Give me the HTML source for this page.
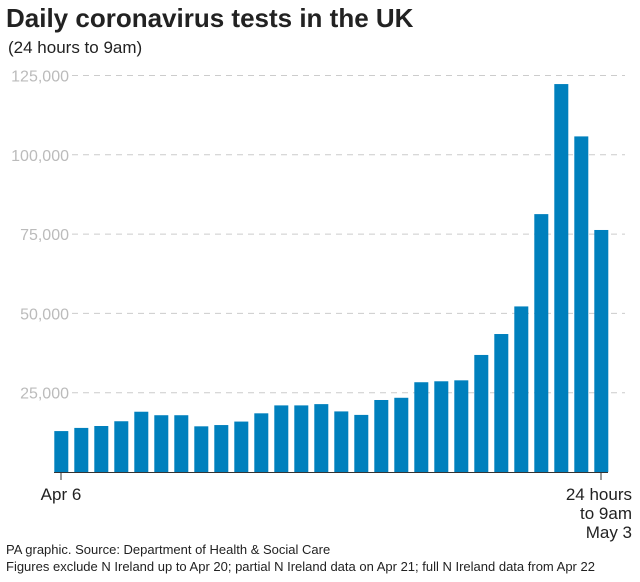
<!DOCTYPE html>
<html><head><meta charset="utf-8"><style>
body{margin:0;background:#fff;width:640px;height:577px;overflow:hidden;font-family:"Liberation Sans",sans-serif}
</style></head><body>
<svg width="640" height="577" font-family="Liberation Sans, sans-serif">
<text x="6" y="27" font-size="26" font-weight="bold" fill="#222">Daily coronavirus tests in the UK</text>
<text x="8" y="53" font-size="17" fill="#222">(24 hours to 9am)</text>
<g id="grid"></g>
<g id="bars"></g>
<line x1="54" x2="608" y1="472.5" y2="472.5" stroke="#333" stroke-width="1"/>
<line x1="61" x2="61" y1="472" y2="480" stroke="#333"/>
<line x1="601" x2="601" y1="472" y2="480" stroke="#333"/>
<text x="61" y="500" font-size="17" text-anchor="middle" fill="#222">Apr 6</text>
<text x="632" y="500" font-size="17" text-anchor="end" fill="#222"><tspan x="632">24 hours</tspan><tspan x="632" dy="19">to 9am</tspan><tspan x="632" dy="19">May 3</tspan></text>
<text x="6" y="554" font-size="13" fill="#222">PA graphic. Source: Department of Health &amp; Social Care</text>
<text x="6" y="571" font-size="13" fill="#222">Figures exclude N Ireland up to Apr 20; partial N Ireland data on Apr 21; full N Ireland data from Apr 22</text>
</svg>
<script>
const days=["Apr 6","Apr 7","Apr 8","Apr 9","Apr 10","Apr 11","Apr 12","Apr 13","Apr 14","Apr 15","Apr 16","Apr 17","Apr 18","Apr 19","Apr 20","Apr 21","Apr 22","Apr 23","Apr 24","Apr 25","Apr 26","Apr 27","Apr 28","Apr 29","Apr 30","May 1","May 2","May 3"];
const tests=[12900,13900,14500,16000,19000,17900,17900,14400,14800,15900,18500,21000,21000,21400,19100,18000,22700,23400,28300,28600,28900,36900,43500,52200,81300,122300,105800,76300];
const yTicks=[25000,50000,75000,100000,125000];
const yTickLabels=["25,000","50,000","75,000","100,000","125,000"];
const NS="http://www.w3.org/2000/svg";
const y0=472,yPer=79.3/25000,x0=54.3,step=20,bw=14;
const yScale=v=>y0-v*yPer;
const xScale=i=>x0+i*step;
const grid=document.getElementById('grid');
yTicks.forEach((t,i)=>{
 const l=document.createElementNS(NS,'line');
 l.setAttribute('x1',72);l.setAttribute('x2',625);
 l.setAttribute('y1',yScale(t));l.setAttribute('y2',yScale(t));
 l.setAttribute('stroke','#ccc');l.setAttribute('stroke-dasharray','6,5');
 
 
 grid.appendChild(l);
 const tx=document.createElementNS(NS,'text');
 tx.setAttribute('x',69);tx.setAttribute('y',yScale(t)+6);
 tx.setAttribute('text-anchor','end');tx.setAttribute('font-size','16');tx.setAttribute('fill','#bbb');
 tx.textContent=yTickLabels[i];
 
 
 grid.appendChild(tx);
});
const bars=document.getElementById('bars');
tests.forEach((v,i)=>{
 const r=document.createElementNS(NS,'rect');
 r.setAttribute('x',xScale(i));r.setAttribute('width',bw);
 r.setAttribute('y',yScale(v));r.setAttribute('height',y0-yScale(v));
 r.setAttribute('fill','#0080bd');
 
 
 bars.appendChild(r);
});
</script>
</body></html>
